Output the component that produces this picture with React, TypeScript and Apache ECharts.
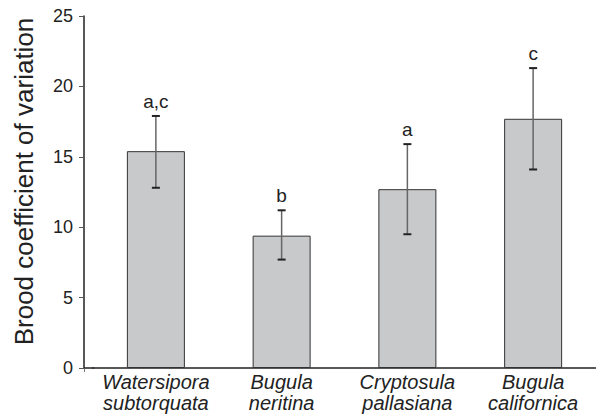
import React, { useEffect, useRef } from "react";
import * as echarts from "echarts";

const categories = ["Watersipora\nsubtorquata", "Bugula\nneritina", "Cryptosula\npallasiana", "Bugula\ncalifornica"];
const means = [15.4, 9.4, 12.7, 17.7];
const errLow = [12.8, 7.7, 9.5, 14.1];
const errHigh = [17.9, 11.2, 15.9, 21.3];
const groupLetters = ["a,c", "b", "a", "c"];
const yTicks = { min: 0, max: 25, interval: 5 };

export default function App() {
  const ref = useRef<HTMLDivElement>(null);
  useEffect(() => {
    const chart = echarts.init(ref.current!, undefined, { renderer: "svg" });
    const font = "'Liberation Sans', Arial, Helvetica, sans-serif";
    chart.setOption({
      animation: false,
      textStyle: { fontFamily: font },
      grid: { left: 93, right: -7, top: 16, bottom: 46, containLabel: false },
      xAxis: {
        type: "category",
        data: categories,
        axisLine: { lineStyle: { color: "#222", width: 1.5 } },
        axisTick: { length: 4, lineStyle: { color: "#777", width: 1 } },
        axisLabel: {
          color: "#222",
          fontSize: 20,
          fontStyle: "italic",
          fontFamily: font,
          lineHeight: 21,
          margin: 3,
          interval: 0,
        },
      },
      yAxis: {
        type: "value",
        min: yTicks.min,
        max: yTicks.max,
        interval: yTicks.interval,
        offset: 9,
        name: "Brood coefficient of variation",
        nameLocation: "middle",
        nameGap: 47,
        nameTextStyle: { fontSize: 26, color: "#222", fontFamily: font, padding: [0, 0, 0, 21] },
        axisLine: { show: true, lineStyle: { color: "#222", width: 1.5 } },
        axisTick: { show: true, length: 5, lineStyle: { color: "#555", width: 1 } },
        axisLabel: { color: "#222", fontSize: 18, margin: 11, fontFamily: font },
        splitLine: { show: false },
      },
      series: [
        {
          type: "bar",
          data: means,
          barWidth: 58,
          itemStyle: { color: "#c8c9cb", borderColor: "#333", borderWidth: 1 },
          z: 2,
        },
        {
          type: "custom",
          z: 5,
          data: means.map((_, i) => [i, errLow[i], errHigh[i]]),
          renderItem: (params: any, api: any) => {
            const i = api.value(0);
            const lo = api.coord([i, api.value(1)]);
            const hi = api.coord([i, api.value(2)]);
            const x = lo[0];
            const cap = 4;
            return {
              type: "group",
              children: [
                { type: "line", shape: { x1: x, y1: hi[1], x2: x, y2: lo[1] }, style: { stroke: "#666", lineWidth: 1.5 } },
                { type: "line", shape: { x1: x - cap, y1: hi[1], x2: x + cap, y2: hi[1] }, style: { stroke: "#222", lineWidth: 2 } },
                { type: "line", shape: { x1: x - cap, y1: lo[1], x2: x + cap, y2: lo[1] }, style: { stroke: "#222", lineWidth: 2 } },
                {
                  type: "text",
                  style: {
                    text: groupLetters[params.dataIndex],
                    x: x,
                    y: hi[1] - 5,
                    align: "center",
                    verticalAlign: "bottom",
                    fontSize: 19,
                    fontFamily: font,
                    fill: "#222",
                  },
                },
              ],
            };
          },
        },
      ],
      graphic: [
        { type: "line", shape: { x1: 84, y1: 368, x2: 94, y2: 368 }, style: { stroke: "#222", lineWidth: 1.5 } },
        { type: "line", shape: { x1: 84.5, y1: 368, x2: 84.5, y2: 372 }, style: { stroke: "#777", lineWidth: 1 } },
      ],
    });
    return () => chart.dispose();
  }, []);
  return <div ref={ref} style={{ width: 596, height: 414, position: "absolute", left: 0, top: 0 }} />;
}
